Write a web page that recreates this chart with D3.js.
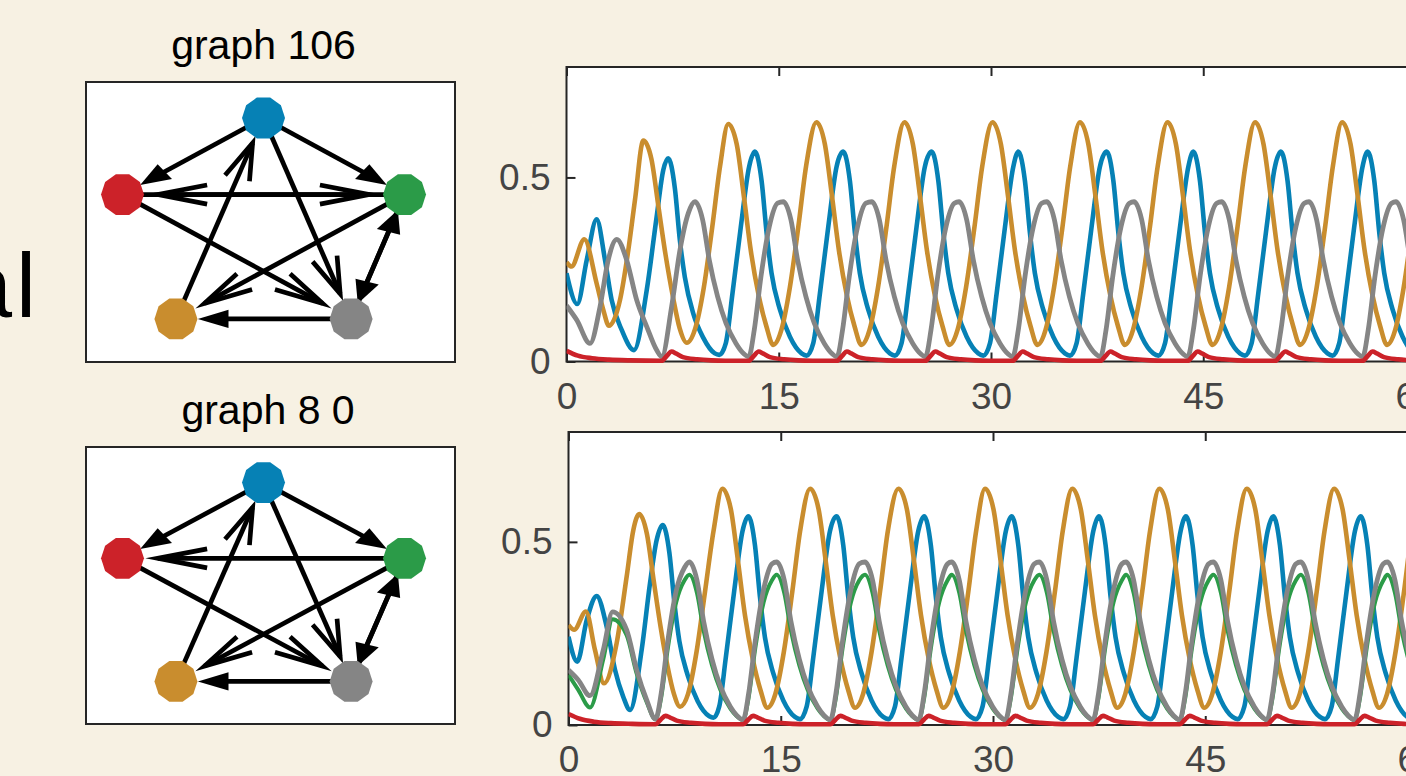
<!DOCTYPE html>
<html>
<head>
<meta charset="utf-8">
<script src="https://cdnjs.cloudflare.com/ajax/libs/d3/7.8.5/d3.min.js"></script>
<style>
  html, body { margin: 0; padding: 0; background: #f7f1e3; overflow: hidden; }
  svg { display: block; }
</style>
</head>
<body>
<svg id="fig" width="1406" height="776"></svg>
<script>
// ---- data ----
const xTicks = [0, 15, 30, 45, 60]
const yTicks = [0, 0.5]
const titles = ["graph 106", "graph 8 0"]

// nodes: blue, red, green, orange, grey (layout coordinates)
const nodeColors = ["#0681b5", "#cc2229", "#2b9b48", "#c98d2e", "#858585"]
const nodeX = [0, -0.95, 0.95, -0.59, 0.59]
const nodeY = [1, 0.31, 0.31, -0.81, -0.81]
const edgesTop = [[0,1],[0,2],[0,4],[3,0],[1,2],[2,1],[1,4],[2,3],[2,4],[4,2],[4,3]]
const edgesBottom = [[0,1],[0,2],[0,4],[3,0],[2,1],[1,4],[2,3],[2,4],[4,2],[4,3]]

// time series [t, value], top panel
const topBlue = [[0,.24],[.76,.156],[1.43,.276],[2.13,.386],[2.72,.276],[3.19,.167],[3.9,.086],[4.77,.031],[5.67,.194],[6.37,.393],[6.84,.52],[7.19,.552],
  [7.66,.47],[8.01,.33],[8.36,.23],[8.96,.13],[9.66,.065],[10.48,.022],[10.8,.018],[11.26,.05],[11.73,.185],[12.32,.366],[12.91,.53],
  [13.32,.57],[13.79,.49],[14.14,.35],[14.49,.24],[15.09,.14],[15.79,.067],[16.61,.022],[16.97,.016],[17.44,.05],[17.91,.185],[18.5,.366],[19.09,.53],
  [19.56,.57],[20.03,.49],[20.38,.35],[20.73,.24],[21.33,.14],[22.03,.067],[22.85,.022],[23.21,.016],[23.68,.05],[24.15,.185],[24.74,.366],[25.33,.53],
  [25.81,.57],[26.28,.49],[26.63,.35],[26.98,.24],[27.58,.14],[28.28,.067],[29.1,.022],[29.46,.016],[29.93,.05],[30.4,.185],[30.99,.366],[31.58,.53],
  [31.93,.57],[32.4,.49],[32.75,.35],[33.1,.24],[33.7,.14],[34.4,.067],[35.22,.022],[35.58,.016],[36.05,.05],[36.52,.185],[37.11,.366],[37.7,.53],
  [38.18,.57],[38.65,.49],[39.0,.35],[39.35,.24],[39.95,.14],[40.65,.067],[41.47,.022],[41.83,.016],[42.3,.05],[42.77,.185],[43.36,.366],[43.95,.53],
  [44.3,.57],[44.77,.49],[45.12,.35],[45.47,.24],[46.07,.14],[46.77,.067],[47.59,.022],[47.95,.016],[48.42,.05],[48.89,.185],[49.48,.366],[50.07,.53],
  [50.49,.57],[50.96,.49],[51.31,.35],[51.66,.24],[52.26,.14],[52.96,.067],[53.78,.022],[54.14,.016],[54.61,.05],[55.08,.185],[55.67,.366],[56.26,.53],
  [56.62,.57],[57.09,.49],[57.44,.35],[57.79,.24],[58.39,.14],[59.09,.067],[59.91,.022],[60.27,.016],[60.74,.05],[61.21,.185],[61.8,.366],[62.39,.53],[62.8,.57]]
const topOrange = [[0,.27],[.35,.258],[1.26,.332],[2.13,.212],[2.6,.14],[3.0,.097],[3.78,.167],[4.37,.303],[4.84,.439],[5.43,.60],
  [6.0,.55],[6.5,.42],[7.0,.29],[7.55,.17],[8.0,.09],[8.5,.051],[9.1,.09],[9.7,.2],[10.3,.365],[10.85,.53],
  [11.43,.645],[12.03,.59],[12.53,.45],[13.03,.30],[13.58,.18],[14.13,.095],[14.61,.045],[15.18,.085],[15.78,.2],[16.38,.365],[16.93,.53],
  [17.66,.65],[18.26,.59],[18.76,.45],[19.26,.30],[19.81,.18],[20.36,.095],[20.84,.045],[21.41,.085],[22.01,.2],[22.61,.365],[23.16,.53],
  [23.88,.65],[24.48,.59],[24.98,.45],[25.48,.30],[26.03,.18],[26.58,.095],[27.06,.045],[27.63,.085],[28.23,.2],[28.83,.365],[29.38,.53],
  [30.1,.65],[30.7,.59],[31.2,.45],[31.7,.30],[32.25,.18],[32.8,.095],[33.28,.045],[33.85,.085],[34.45,.2],[35.05,.365],[35.6,.53],
  [36.28,.65],[36.88,.59],[37.38,.45],[37.88,.30],[38.43,.18],[38.98,.095],[39.46,.045],[40.03,.085],[40.63,.2],[41.23,.365],[41.78,.53],
  [42.47,.65],[43.07,.59],[43.57,.45],[44.07,.30],[44.62,.18],[45.17,.095],[45.65,.045],[46.22,.085],[46.82,.2],[47.42,.365],[47.97,.53],
  [48.66,.65],[49.26,.59],[49.76,.45],[50.26,.30],[50.81,.18],[51.36,.095],[51.84,.045],[52.41,.085],[53.01,.2],[53.61,.365],[54.16,.53],
  [54.81,.65],[55.41,.59],[55.91,.45],[56.41,.30],[56.96,.18],[57.51,.095],[57.99,.045],[58.56,.085],[59.16,.2],[59.76,.365],[60.31,.53],
  [61.0,.65],[61.6,.59],[62.1,.45]]
const topGrey = [[0,.152],[.72,.113],[1.66,.049],[2.37,.149],[2.95,.276],[3.55,.332],[4.25,.276],[4.96,.167],[5.67,.095],[6.37,.031],[6.73,.013],[7.43,.149],[8.02,.303],[8.61,.403],
  [9.08,.434],[9.62,.385],[10.09,.276],[10.68,.176],[11.27,.104],[11.98,.049],[12.43,.025],[12.88,.013],[13.27,.086],[13.74,.23],[14.33,.366],[14.92,.43],
  [15.32,.434],[15.86,.385],[16.33,.276],[16.92,.176],[17.51,.104],[18.22,.049],[18.67,.025],[19.12,.013],[19.51,.086],[19.98,.23],[20.57,.366],[21.16,.43],
  [21.57,.434],[22.11,.385],[22.58,.276],[23.17,.176],[23.76,.104],[24.47,.049],[24.92,.025],[25.37,.013],[25.76,.086],[26.23,.23],[26.82,.366],[27.41,.43],
  [27.74,.434],[28.28,.385],[28.75,.276],[29.34,.176],[29.93,.104],[30.64,.049],[31.09,.025],[31.54,.013],[31.93,.086],[32.4,.23],[32.99,.366],[33.58,.43],
  [33.94,.434],[34.48,.385],[34.95,.276],[35.54,.176],[36.13,.104],[36.84,.049],[37.29,.025],[37.74,.013],[38.13,.086],[38.6,.23],[39.19,.366],[39.78,.43],
  [40.11,.434],[40.65,.385],[41.12,.276],[41.71,.176],[42.3,.104],[43.01,.049],[43.46,.025],[43.91,.013],[44.3,.086],[44.77,.23],[45.36,.366],[45.95,.43],
  [46.3,.434],[46.84,.385],[47.31,.276],[47.9,.176],[48.49,.104],[49.2,.049],[49.65,.025],[50.1,.013],[50.49,.086],[50.96,.23],[51.55,.366],[52.14,.43],
  [52.47,.434],[53.01,.385],[53.48,.276],[54.07,.176],[54.66,.104],[55.37,.049],[55.82,.025],[56.27,.013],[56.66,.086],[57.13,.23],[57.72,.366],[58.31,.43],
  [58.62,.434],[59.16,.385],[59.63,.276],[60.22,.176],[60.81,.104],[61.52,.049]]
const topRed = [[0,.029],[.8,.016],[1.8,.009],[3,.005],[4.5,.003],[6.73,.002],[7.08,.015],[7.43,.027],[7.73,.022],[8.23,.012],[9.23,.006],[10.23,.003],[11.23,.002],
  [12.88,.002],[13.23,.015],[13.58,.027],[13.88,.022],[14.38,.012],[15.38,.006],[16.38,.003],[17.38,.002],
  [19.12,.002],[19.47,.015],[19.82,.027],[20.12,.022],[20.62,.012],[21.62,.006],[22.62,.003],[23.62,.002],
  [25.37,.002],[25.72,.015],[26.07,.027],[26.37,.022],[26.87,.012],[27.87,.006],[28.87,.003],[29.87,.002],
  [31.54,.002],[31.89,.015],[32.24,.027],[32.54,.022],[33.04,.012],[34.04,.006],[35.04,.003],[36.04,.002],
  [37.74,.002],[38.09,.015],[38.44,.027],[38.74,.022],[39.24,.012],[40.24,.006],[41.24,.003],[42.24,.002],
  [43.91,.002],[44.26,.015],[44.61,.027],[44.91,.022],[45.41,.012],[46.41,.006],[47.41,.003],[48.41,.002],
  [50.1,.002],[50.45,.015],[50.8,.027],[51.1,.022],[51.6,.012],[52.6,.006],[53.6,.003],[54.6,.002],
  [56.27,.002],[56.62,.015],[56.97,.027],[57.27,.022],[57.77,.012],[58.77,.006],[59.77,.003],[60.77,.002],[62.4,.002]]

// time series [t, value], bottom panel
const bottomBlue = [[0,.241],[.62,.173],[1.29,.287],[1.99,.352],[2.7,.268],[3.29,.15],[3.87,.077],[4.35,.041],[5.17,.205],[5.76,.387],[6.23,.505],[6.66,.546],
  [7.13,.47],[7.48,.335],[7.83,.23],[8.43,.135],[9.13,.065],[9.95,.024],[10.25,.02],[10.65,.05],[11.12,.185],[11.71,.366],[12.3,.53],
  [12.71,.57],[13.18,.49],[13.53,.35],[13.88,.24],[14.48,.14],[15.18,.067],[16.0,.022],[16.36,.016],[16.83,.05],[17.3,.185],[17.89,.366],[18.48,.53],
  [18.95,.57],[19.42,.49],[19.77,.35],[20.12,.24],[20.72,.14],[21.42,.067],[22.24,.022],[22.6,.016],[23.07,.05],[23.54,.185],[24.13,.366],[24.72,.53],
  [25.14,.57],[25.61,.49],[25.96,.35],[26.31,.24],[26.91,.14],[27.61,.067],[28.43,.022],[28.79,.016],[29.26,.05],[29.73,.185],[30.32,.366],[30.91,.53],
  [31.32,.57],[31.79,.49],[32.14,.35],[32.49,.24],[33.09,.14],[33.79,.067],[34.61,.022],[34.97,.016],[35.44,.05],[35.91,.185],[36.5,.366],[37.09,.53],
  [37.49,.57],[37.96,.49],[38.31,.35],[38.66,.24],[39.26,.14],[39.96,.067],[40.78,.022],[41.14,.016],[41.61,.05],[42.08,.185],[42.67,.366],[43.26,.53],
  [43.64,.57],[44.11,.49],[44.46,.35],[44.81,.24],[45.41,.14],[46.11,.067],[46.93,.022],[47.29,.016],[47.76,.05],[48.23,.185],[48.82,.366],[49.41,.53],
  [49.81,.57],[50.28,.49],[50.63,.35],[50.98,.24],[51.58,.14],[52.28,.067],[53.1,.022],[53.46,.016],[53.93,.05],[54.4,.185],[54.99,.366],[55.58,.53],
  [55.99,.57],[56.46,.49],[56.81,.35],[57.16,.24],[57.76,.14],[58.46,.067],[59.28,.022],[59.64,.016],[60.11,.05],[60.58,.185],[61.17,.366],[61.76,.53],[62.16,.57]]
const bottomOrange = [[0,.273],[.4,.26],[1.23,.31],[1.87,.205],[2.51,.114],[3.4,.223],[4.11,.405],[4.58,.532],[5.0,.576],
  [5.55,.52],[6.0,.40],[6.5,.27],[7.0,.16],[7.45,.085],[7.88,.05],[8.45,.085],[9.05,.2],[9.65,.365],[10.25,.53],
  [10.87,.645],[11.47,.59],[11.97,.45],[12.47,.30],[13.02,.18],[13.57,.095],[14.05,.047],[14.62,.085],[15.22,.2],[15.82,.365],[16.37,.53],
  [17.07,.645],[17.67,.59],[18.17,.45],[18.67,.30],[19.22,.18],[19.77,.095],[20.25,.047],[20.82,.085],[21.42,.2],[22.02,.365],[22.57,.53],
  [23.31,.645],[23.91,.59],[24.41,.45],[24.91,.30],[25.46,.18],[26.01,.095],[26.49,.047],[27.06,.085],[27.66,.2],[28.26,.365],[28.81,.53],
  [29.43,.645],[30.03,.59],[30.53,.45],[31.03,.30],[31.58,.18],[32.13,.095],[32.61,.047],[33.18,.085],[33.78,.2],[34.38,.365],[34.93,.53],
  [35.6,.645],[36.2,.59],[36.7,.45],[37.2,.30],[37.75,.18],[38.3,.095],[38.78,.047],[39.35,.085],[39.95,.2],[40.55,.365],[41.1,.53],
  [41.75,.645],[42.35,.59],[42.85,.45],[43.35,.30],[43.9,.18],[44.45,.095],[44.93,.047],[45.5,.085],[46.1,.2],[46.7,.365],[47.25,.53],
  [47.93,.645],[48.53,.59],[49.03,.45],[49.53,.30],[50.08,.18],[50.63,.095],[51.11,.047],[51.68,.085],[52.28,.2],[52.88,.365],[53.43,.53],
  [54.1,.645],[54.7,.59],[55.2,.45],[55.7,.30],[56.25,.18],[56.8,.095],[57.28,.047],[57.85,.085],[58.45,.2],[59.05,.365],[59.6,.53],
  [60.25,.645],[60.85,.59],[61.35,.45]]
const bottomGrey = [[0,.15],[.69,.123],[1.52,.08],[2.46,.205],[3.12,.309],[4.11,.26],[4.82,.15],[5.53,.068],[6.15,.016],[6.55,.086],[7.02,.23],[7.61,.366],[8.2,.43],
  [8.54,.445],[9.08,.395],[9.55,.283],[10.14,.18],[10.73,.106],[11.44,.05],[11.89,.026],[12.34,.014],[12.73,.086],[13.2,.23],[13.79,.37],[14.38,.44],
  [14.71,.445],[15.25,.395],[15.72,.283],[16.31,.18],[16.9,.106],[17.61,.05],[18.06,.026],[18.51,.014],[18.9,.086],[19.37,.23],[19.96,.37],[20.55,.44],
  [20.95,.445],[21.49,.395],[21.96,.283],[22.55,.18],[23.14,.106],[23.85,.05],[24.3,.026],[24.75,.014],[25.14,.086],[25.61,.23],[26.2,.37],[26.79,.44],
  [27.08,.445],[27.62,.395],[28.09,.283],[28.68,.18],[29.27,.106],[29.98,.05],[30.43,.026],[30.88,.014],[31.27,.086],[31.74,.23],[32.33,.37],[32.92,.44],
  [33.27,.445],[33.81,.395],[34.28,.283],[34.87,.18],[35.46,.106],[36.17,.05],[36.62,.026],[37.07,.014],[37.46,.086],[37.93,.23],[38.52,.37],[39.11,.44],
  [39.4,.445],[39.94,.395],[40.41,.283],[41.0,.18],[41.59,.106],[42.3,.05],[42.75,.026],[43.2,.014],[43.59,.086],[44.06,.23],[44.65,.37],[45.24,.44],
  [45.57,.445],[46.11,.395],[46.58,.283],[47.17,.18],[47.76,.106],[48.47,.05],[48.92,.026],[49.37,.014],[49.76,.086],[50.23,.23],[50.82,.37],[51.41,.44],
  [51.75,.445],[52.29,.395],[52.76,.283],[53.35,.18],[53.94,.106],[54.65,.05],[55.1,.026],[55.55,.014],[55.94,.086],[56.41,.23],[57.0,.37],[57.59,.44],
  [57.87,.445],[58.41,.395],[58.88,.283],[59.47,.18],[60.06,.106],[60.77,.05]]
const bottomGreen = [[0,.137],[.69,.096],[1.52,.048],[2.46,.18],[3.12,.289],[4.11,.245],[4.82,.14],[5.53,.062],[6.15,.016],[6.55,.075],[7.02,.21],[7.61,.335],[8.2,.395],
  [8.54,.41],[9.08,.36],[9.55,.258],[10.14,.163],[10.73,.096],[11.44,.045],[11.89,.024],[12.34,.014],[12.73,.075],[13.2,.21],[13.79,.335],[14.38,.395],
  [14.71,.41],[15.25,.36],[15.72,.258],[16.31,.163],[16.9,.096],[17.61,.045],[18.06,.024],[18.51,.014],[18.9,.075],[19.37,.21],[19.96,.335],[20.55,.395],
  [20.95,.41],[21.49,.36],[21.96,.258],[22.55,.163],[23.14,.096],[23.85,.045],[24.3,.024],[24.75,.014],[25.14,.075],[25.61,.21],[26.2,.335],[26.79,.395],
  [27.08,.41],[27.62,.36],[28.09,.258],[28.68,.163],[29.27,.096],[29.98,.045],[30.43,.024],[30.88,.014],[31.27,.075],[31.74,.21],[32.33,.335],[32.92,.395],
  [33.27,.41],[33.81,.36],[34.28,.258],[34.87,.163],[35.46,.096],[36.17,.045],[36.62,.024],[37.07,.014],[37.46,.075],[37.93,.21],[38.52,.335],[39.11,.395],
  [39.4,.41],[39.94,.36],[40.41,.258],[41.0,.163],[41.59,.096],[42.3,.045],[42.75,.024],[43.2,.014],[43.59,.075],[44.06,.21],[44.65,.335],[45.24,.395],
  [45.57,.41],[46.11,.36],[46.58,.258],[47.17,.163],[47.76,.096],[48.47,.045],[48.92,.024],[49.37,.014],[49.76,.075],[50.23,.21],[50.82,.335],[51.41,.395],
  [51.75,.41],[52.29,.36],[52.76,.258],[53.35,.163],[53.94,.096],[54.65,.045],[55.1,.024],[55.55,.014],[55.94,.075],[56.41,.21],[57.0,.335],[57.59,.395],
  [57.87,.41],[58.41,.36],[58.88,.258],[59.47,.163],[60.06,.096],[60.77,.045]]
const bottomRed = [[0,.03],[.8,.017],[1.8,.009],[3,.005],[4.5,.003],[6.15,.002],[6.5,.014],[6.85,.025],[7.15,.021],[7.65,.012],[8.65,.006],[9.65,.003],[10.65,.002],
  [12.34,.002],[12.69,.014],[13.04,.025],[13.34,.021],[13.84,.012],[14.84,.006],[15.84,.003],[16.84,.002],
  [18.51,.002],[18.86,.014],[19.21,.025],[19.51,.021],[20.01,.012],[21.01,.006],[22.01,.003],[23.01,.002],
  [24.75,.002],[25.1,.014],[25.45,.025],[25.75,.021],[26.25,.012],[27.25,.006],[28.25,.003],[29.25,.002],
  [30.88,.002],[31.23,.014],[31.58,.025],[31.88,.021],[32.38,.012],[33.38,.006],[34.38,.003],[35.38,.002],
  [37.07,.002],[37.42,.014],[37.77,.025],[38.07,.021],[38.57,.012],[39.57,.006],[40.57,.003],[41.57,.002],
  [43.2,.002],[43.55,.014],[43.9,.025],[44.2,.021],[44.7,.012],[45.7,.006],[46.7,.003],[47.7,.002],
  [49.37,.002],[49.72,.014],[50.07,.025],[50.37,.021],[50.87,.012],[51.87,.006],[52.87,.003],[53.87,.002],
  [55.55,.002],[55.9,.014],[56.25,.025],[56.55,.021],[57.05,.012],[58.05,.006],[59.05,.003],[60.05,.002],[61.7,.002]]

// ---- drawing ----
const svg = d3.select("#fig")
const font = "'Liberation Sans', Arial, Helvetica, sans-serif"

// cut-off label on the far left
const cut = svg.append("text")
   .attr("x", 36)
   .attr("y", 317)
   .attr("text-anchor", "end")
   .attr("font-family", font)
   .attr("font-size", "90px")
   .attr("fill", "#000")
cut.append("tspan").text("a")
cut.append("tspan").attr("dx", 4).text("l")

function drawGraph(box, edges, title, titleX) {
    const gx = d3.scaleLinear().domain([-1.196, 1.29]).range([box.left, box.right])
    const gy = d3.scaleLinear().domain([1.324, -1.198]).range([box.top, box.bottom])
    const g = svg.append("g")

    g.append("text")
     .attr("x", titleX)
     .attr("y", box.top - 23)
     .attr("text-anchor", "middle")
     .attr("font-family", font)
     .attr("font-size", "41px")
     .attr("fill", "#000")
     .text(title)

    g.append("rect")
     .attr("x", box.left)
     .attr("y", box.top)
     .attr("width", box.right - box.left)
     .attr("height", box.bottom - box.top)
     .attr("fill", "#fff")
     .attr("stroke", "#262626")
     .attr("stroke-width", 2)

    const pt = (px, py) => [gx(px), gy(py)]
    edges.forEach(([a, b]) => {
        const sx = nodeX[a], sy = nodeY[a], tx = nodeX[b], ty = nodeY[b]
        const dx = tx - sx, dy = ty - sy
        const L = Math.hypot(dx, dy)
        const ux = dx / L, uy = dy / L
        const nx = -uy, ny = ux
        const side = L < 1.5
        const tipX = tx - 0.125 * L * ux, tipY = ty - 0.125 * L * uy
        const h = 0.175 * L
        const w = h * (side ? 0.4 : 0.26)
        const bx = tipX - h * ux, by = tipY - h * uy
        const end = side ? pt(bx + 0.2 * h * ux, by + 0.2 * h * uy) : pt(tipX, tipY)
        g.append("line")
         .attr("x1", gx(sx)).attr("y1", gy(sy))
         .attr("x2", end[0]).attr("y2", end[1])
         .attr("stroke", "#000")
         .attr("stroke-width", 4.7)
        const p1 = pt(bx + w * nx, by + w * ny)
        const p2 = pt(bx - w * nx, by - w * ny)
        const tip = pt(tipX, tipY)
        if (side) {
            g.append("path")
             .attr("d", `M${p1}L${tip}L${p2}Z`)
             .attr("fill", "#000")
        } else {
            g.append("path")
             .attr("d", `M${p1}L${tip}L${p2}`)
             .attr("fill", "none")
             .attr("stroke", "#000")
             .attr("stroke-width", 4.7)
             .attr("stroke-linejoin", "miter")
             .attr("stroke-miterlimit", 10)
        }
    })

    const r = 21.5
    const deca = d3.range(10).map(k => [r * Math.cos(k * Math.PI / 5), r * Math.sin(k * Math.PI / 5)])
    g.selectAll(".node")
     .data(nodeX.map((d, i) => i))
     .join("path")
     .attr("class", "node")
     .attr("transform", i => `translate(${gx(nodeX[i])}, ${gy(nodeY[i])})`)
     .attr("d", "M" + deca.join("L") + "Z")
     .attr("fill", i => nodeColors[i])
}

function drawTrace(box, series, clipId) {
    const x = d3.scaleLinear().domain([0, 60]).range([box.left, box.left + 60 * 14.15])
    const y = d3.scaleLinear().domain([0, 0.8]).range([box.bottom, box.top])
    const g = svg.append("g")
    const right = x(60)

    g.append("rect")
     .attr("x", box.left)
     .attr("y", box.top)
     .attr("width", right - box.left)
     .attr("height", box.bottom - box.top)
     .attr("fill", "#fff")
     .attr("stroke", "#262626")
     .attr("stroke-width", 2)

    const xAxis = d3.axisBottom(x).tickValues(xTicks).tickSize(-9).tickPadding(21)
    const xTop = d3.axisTop(x).tickValues(xTicks).tickSize(-9).tickFormat("")
    const yAxis = d3.axisLeft(y).tickValues(yTicks).tickSize(-9).tickPadding(16).tickFormat(d3.format("~g"))
    g.append("g").attr("class", "x-axis").attr("transform", `translate(0, ${box.bottom})`).call(xAxis)
    g.append("g").attr("transform", `translate(0, ${box.top})`).call(xTop)
    g.append("g").attr("class", "y-axis").attr("transform", `translate(${box.left}, 0)`).call(yAxis)
    g.selectAll(".domain").remove()
    g.selectAll(".tick line").attr("stroke", "#262626").attr("stroke-width", 2)
    g.selectAll(".tick text")
     .attr("font-family", font)
     .attr("font-size", "37px")
     .attr("fill", "#444")

    svg.append("clipPath")
       .attr("id", clipId)
       .append("rect")
       .attr("x", box.left)
       .attr("y", box.top - 6)
       .attr("width", right - box.left)
       .attr("height", box.bottom - box.top + 12)

    const line = d3.line()
                   .x(d => x(d[0]))
                   .y(d => y(d[1]))
                   .curve(d3.curveMonotoneX)
    g.append("g")
     .attr("clip-path", `url(#${clipId})`)
     .selectAll("path")
     .data(series)
     .join("path")
     .attr("d", d => line(d.values))
     .attr("fill", "none")
     .attr("stroke", d => d.color)
     .attr("stroke-width", d => d.width)
     .attr("stroke-linejoin", "round")
}

drawGraph({left: 86, right: 455, top: 82, bottom: 362}, edgesTop, titles[0], 263.5)
drawGraph({left: 86, right: 455, top: 447, bottom: 724}, edgesBottom, titles[1], 268)

drawTrace({left: 566.5, top: 67, bottom: 361.5}, [
    {values: topBlue, color: nodeColors[0], width: 4.6},
    {values: topOrange, color: nodeColors[3], width: 4.6},
    {values: topGrey, color: nodeColors[4], width: 4.8},
    {values: topRed, color: nodeColors[1], width: 4.6}
], "clipTop")

drawTrace({left: 568.5, top: 432, bottom: 725}, [
    {values: bottomBlue, color: nodeColors[0], width: 4.6},
    {values: bottomOrange, color: nodeColors[3], width: 4.6},
    {values: bottomGreen, color: nodeColors[2], width: 4},
    {values: bottomGrey, color: nodeColors[4], width: 4.8},
    {values: bottomRed, color: nodeColors[1], width: 4.6}
], "clipBottom")
</script>
</body>
</html>
